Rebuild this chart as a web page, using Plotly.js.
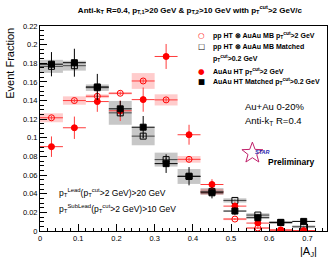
<!DOCTYPE html>
<html>
<head>
<meta charset="utf-8">
<script src="https://cdn.plot.ly/plotly-3.0.1.min.js"></script>
<style>
  html, body { margin: 0; padding: 0; background: #fff; }
  #aj-graph { width: 332px; height: 261px; }
</style>
</head>
<body>
<div id="aj-graph"></div>
<script>
'use strict';

const ID = 'aj-graph';

// |A_J| bin centres
const ajBins = [0.03, 0.09, 0.15, 0.21, 0.27, 0.33, 0.39, 0.45, 0.51, 0.57, 0.63, 0.69];

// pp HT (x) AuAu MB, pT cut > 2 GeV
const ppEmbHard = [0.1215, 0.140, 0.1446, 0.1478, 0.161, 0.1407, 0.0769, 0.042, 0.0128, 0.0032, 0.0008, 0.0002];
const ppEmbHardStat = [0.002, 0.002, 0.002, 0.002, 0.002, 0.002, 0.002, 0.002, 0.001, 0.001, 0.001, 0.001];
const ppEmbHardSys = [0.0048, 0.0045, 0.002, 0.0012, 0.0085, 0.006, 0.0036, 0.003, 0.0012, 0.001, 0.0006, 0.0004];

// pp HT (x) AuAu MB, matched pT cut > 0.2 GeV
const ppEmbMatched = [0.1767, 0.1774, 0.1538, 0.1268, 0.1018, 0.0766, 0.0585, 0.0425, 0.0328, 0.0171, 0.009, 0.0046];
const ppEmbMatchedStat = [0.002, 0.002, 0.002, 0.002, 0.002, 0.002, 0.002, 0.002, 0.001, 0.001, 0.001, 0.001];
const ppEmbMatchedSys = [0.007, 0.0053, 0.0035, 0.0128, 0.0098, 0.0075, 0.008, 0.0036, 0.0023, 0.002, 0.0015, 0.0015];

// AuAu HT, pT cut > 2 GeV
const auauHard = [0.0905, 0.1108, 0.1389, 0.129, 0.141, 0.1873, 0.1033, 0.0499, 0.0267, 0.0085, 0.0012, 0.0004];
const auauHardStat = [0.011, 0.012, 0.011, 0.011, 0.013, 0.0134, 0.0107, 0.0057, 0.004, 0.003, 0.001, 0.001];

// AuAu HT, matched pT cut > 0.2 GeV
const auauMatched = [0.179, 0.1806, 0.1546, 0.1311, 0.1114, 0.0723, 0.0588, 0.041, 0.0214, 0.0142, 0.0093, 0.0103];
const auauMatchedStat = [0.013, 0.015, 0.014, 0.0085, 0.012, 0.010, 0.0098, 0.006, 0.004, 0.003, 0.002, 0.002];

const BIN_WIDTH = 0.06;
const FONT = 'Liberation Sans, Arial, sans-serif';

function sysBox(vals, sys, color) {
  return {
    type: 'bar',
    x: ajBins,
    y: sys.map(s => 2 * s),
    base: vals.map((v, i) => v - sys[i]),
    width: BIN_WIDTH,
    marker: { color: color, line: { width: 0 } },
    hoverinfo: 'skip'
  };
}

function points(vals, stat, symbol, color, barColor) {
  return {
    type: 'scatter',
    mode: 'markers',
    x: ajBins,
    y: vals,
    marker: { symbol: symbol, size: 6, color: color, line: { color: color, width: 1 } },
    error_x: { type: 'constant', value: BIN_WIDTH / 2, width: 0, thickness: 1, color: barColor },
    error_y: { type: 'data', array: stat, width: 0, thickness: 1, color: barColor }
  };
}

const data = [
  sysBox(ppEmbMatched, ppEmbMatchedSys, 'rgba(0,0,0,0.22)'),
  sysBox(ppEmbHard, ppEmbHardSys, 'rgba(255,0,0,0.2)'),
  points(ppEmbHard, ppEmbHardStat, 'circle-open', '#ff0000', '#ff3b3b'),
  points(ppEmbMatched, ppEmbMatchedStat, 'square-open', '#000000', '#444444'),
  points(auauHard, auauHardStat, 'circle', '#ff0000', '#ff3b3b'),
  points(auauMatched, auauMatchedStat, 'square', '#000000', '#000000')
];

// hand-made legend, laid out like the ROOT one
const legendRows = [
  { sym: '○', color: '#ff0000', y: 0.956, text: 'pp HT ⊗ AuAu MB p<sub>T</sub><sup>cut</sup>>2 GeV' },
  { sym: '□', color: '#000000', y: 0.898, text: 'pp HT ⊗ AuAu MB Matched' },
  { sym: '', color: '#000000', y: 0.842, text: 'p<sub>T</sub><sup>cut</sup>>0.2 GeV' },
  { sym: '●', color: '#ff0000', y: 0.780, text: 'AuAu HT p<sub>T</sub><sup>cut</sup>>2 GeV' },
  { sym: '■', color: '#000000', y: 0.727, text: 'AuAu HT Matched p<sub>T</sub><sup>cut</sup>>0.2 GeV' }
];

const annotations = [];
legendRows.forEach(r => {
  if (r.sym) {
    annotations.push({
      xref: 'paper', yref: 'paper', x: 0.564, y: r.y,
      xanchor: 'center', yanchor: 'middle', showarrow: false,
      text: r.sym, font: { family: 'DejaVu Sans', size: 7.5, color: r.color }
    });
  }
  annotations.push({
    xref: 'paper', yref: 'paper', x: 0.597, y: r.y,
    xanchor: 'left', yanchor: 'middle', showarrow: false,
    text: '<b>' + r.text + '</b>', font: { family: FONT, size: 7, color: '#000' }
  });
});

const plainText = [
  { x: 0.707, y: 0.605, text: 'Au+Au 0-20%', size: 9.5 },
  { x: 0.707, y: 0.536, text: 'Anti-k<sub>T</sub> R=0.4', size: 9.5 },
  { x: 0.060, y: 0.190, text: 'p<sub>T</sub><sup>Lead</sup>(p<sub>T</sub><sup>cut</sup>>2 GeV)>20 GeV', size: 8.5 },
  { x: 0.060, y: 0.112, text: 'p<sub>T</sub><sup>SubLead</sup>(p<sub>T</sub><sup>cut</sup>>2 GeV)>10 GeV', size: 8.5 }
];
plainText.forEach(t => {
  annotations.push({
    xref: 'paper', yref: 'paper', x: t.x, y: t.y,
    xanchor: 'left', yanchor: 'middle', showarrow: false,
    text: t.text, font: { family: FONT, size: t.size, color: '#000' }
  });
});

// STAR preliminary logo: outlined star drawn as a pixel-sized path
function starPath(rOut, rIn) {
  let p = '';
  for (let k = 0; k < 10; k++) {
    const r = k % 2 === 0 ? rOut : rIn;
    const a = Math.PI / 2 + k * Math.PI / 5;
    p += (k === 0 ? 'M' : 'L') + (r * Math.cos(a)).toFixed(2) + ',' + (r * Math.sin(a)).toFixed(2);
  }
  return p + 'Z';
}

const shapes = [{
  type: 'path',
  xref: 'paper', yref: 'paper',
  xsizemode: 'pixel', ysizemode: 'pixel',
  xanchor: 0.74, yanchor: 0.38,
  path: starPath(11, 4.6),
  line: { color: '#c0206a', width: 1 },
  fillcolor: 'rgba(0,0,0,0)'
}];

annotations.push({
  xref: 'paper', yref: 'paper', x: 0.775, y: 0.383,
  xanchor: 'center', yanchor: 'middle', showarrow: false,
  text: '<b><i>STAR</i></b>', font: { family: FONT, size: 5.5, color: '#2a2ab0' }
});
annotations.push({
  xref: 'paper', yref: 'paper', x: 0.786, y: 0.335,
  xanchor: 'left', yanchor: 'middle', showarrow: false,
  text: '<b>Preliminary</b>', font: { family: FONT, size: 8.5, color: '#000' }
});

// axis titles, placed the ROOT way
annotations.push({
  xref: 'paper', yref: 'paper', x: -0.105, y: 0.82,
  xanchor: 'center', yanchor: 'middle', showarrow: false, textangle: -90,
  text: 'Event Fraction', font: { family: FONT, size: 11, color: '#000' }
});
annotations.push({
  xref: 'paper', yref: 'paper', x: 0.934, y: -0.10,
  xanchor: 'center', yanchor: 'middle', showarrow: false,
  text: '|A<sub>J</sub>|', font: { family: FONT, size: 11, color: '#000' }
});

const axisCommon = {
  showgrid: false,
  zeroline: false,
  showline: true,
  linecolor: '#000',
  linewidth: 1,
  mirror: true,
  ticks: 'inside',
  tickcolor: '#000',
  tickwidth: 1,
  tickfont: { family: FONT, size: 7.5, color: '#000' },
  fixedrange: true
};

const layout = {
  width: 332,
  height: 261,
  margin: { l: 40, r: 5, t: 26, b: 30 },
  paper_bgcolor: '#fff',
  plot_bgcolor: '#fff',
  showlegend: false,
  barmode: 'overlay',
  hovermode: false,
  title: {
    text: '<b>Anti-k<sub>T</sub> R=0.4, p<sub>T,1</sub>>20 GeV & p<sub>T,2</sub>>10 GeV with p<sub>T</sub><sup>cut</sup>>2 GeV/c</b>',
    x: 0.572,
    xanchor: 'center',
    y: 0.962,
    yanchor: 'middle',
    font: { family: FONT, size: 8, color: '#000' }
  },
  xaxis: Object.assign({}, axisCommon, {
    range: [0, 0.751],
    tick0: 0,
    dtick: 0.1,
    ticklen: 7,
    minor: { dtick: 0.02, ticks: 'inside', ticklen: 3.5, tickcolor: '#000' }
  }),
  yaxis: Object.assign({}, axisCommon, {
    range: [0, 0.22],
    tick0: 0,
    dtick: 0.02,
    ticklen: 7,
    minor: { dtick: 0.005, ticks: 'inside', ticklen: 3.5, tickcolor: '#000' }
  }),
  shapes: shapes,
  annotations: annotations
};

Plotly.newPlot(ID, data, layout, { staticPlot: true, displayModeBar: false });
</script>
</body>
</html>
